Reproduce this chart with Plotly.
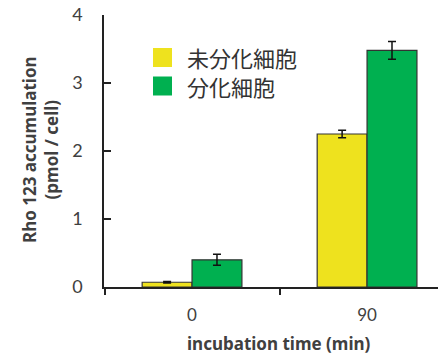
import plotly.graph_objects as go

categories = ["0", "90"]
series_names = ["未分化細胞", "分化細胞"]
undiff_values = [0.07, 2.25]
undiff_errors = [0.01, 0.055]
diff_values = [0.40, 3.48]
diff_errors = [0.08, 0.13]
y_ticks = [0, 1, 2, 3, 4]

colors = ["#EEE21E", "#00B050"]

# page body has an 8px default margin; compensate so the plot lands in place
OFF = 8

fig = go.Figure()
for name, vals, errs, col in [
    (series_names[0], undiff_values, undiff_errors, colors[0]),
    (series_names[1], diff_values, diff_errors, colors[1]),
]:
    fig.add_trace(go.Bar(
        x=categories, y=vals, name=name,
        marker=dict(color=col, line=dict(color="#333333", width=1.2)),
        error_y=dict(type="data", array=errs, visible=True,
                     color="#111111", thickness=1.5, width=4),
        showlegend=False,
    ))

fig.update_layout(
    width=446 - OFF, height=358 - OFF,
    margin=dict(l=104 - OFF, r=0, t=15 - OFF, b=71, autoexpand=False),
    paper_bgcolor="white", plot_bgcolor="white",
    barmode="group", bargap=0.43, bargroupgap=0,
    font=dict(family="Lato, Liberation Sans, sans-serif", color="#404040"),
)
fig.update_xaxes(
    type="category", range=[-0.503, 1.451], automargin=False,
    showline=True, linecolor="#222222", linewidth=1.5,
    ticks="outside", tickson="boundaries", ticklen=6, tickwidth=2, tickcolor="#222222",
    tickfont=dict(size=17, color="#404040"), ticklabelstandoff=12,
    ticklabeloverflow="allow",
    showgrid=False, zeroline=False,
)
fig.update_yaxes(
    range=[0, 4], tickvals=y_ticks, automargin=False,
    showline=True, linecolor="#222222", linewidth=1.5,
    ticks="inside", ticklen=7, tickwidth=1.5, tickcolor="#222222",
    tickfont=dict(size=18, color="#404040"), ticklabelstandoff=16,
    ticklabeloverflow="allow",
    showgrid=False, zeroline=False,
)

# axis titles
fig.add_annotation(
    text="<b>Rho 123 accumulation<br>(pmol / cell)</b>",
    xref="paper", yref="paper", x=(40 - 104) / 342, y=(287 - 150) / 272,
    xanchor="center", yanchor="middle", textangle=-90, showarrow=False,
    font=dict(size=17, color="#404040", family="Noto Sans, sans-serif"),
)
fig.add_annotation(
    text="<b>incubation time (min)</b>",
    xref="paper", yref="paper", x=(278.5 - 104) / 342, y=(287 - 343) / 272,
    xanchor="center", yanchor="middle", showarrow=False,
    font=dict(size=17, color="#404040", family="Noto Sans, sans-serif"),
)

# legend drawn manually
legend_y = [57.5, 86]
for col, yc in zip(colors, legend_y):
    fig.add_shape(
        type="rect", xref="paper", yref="paper",
        x0=(153 - 104) / 342, x1=(172 - 104) / 342,
        y0=(287 - (yc + 9.5)) / 272, y1=(287 - (yc - 9.5)) / 272,
        fillcolor=col, line=dict(width=0),
    )
fig.add_annotation(
    text="<br>".join(series_names), xref="paper", yref="paper",
    x=(185 - 104) / 342, y=(287 - (legend_y[0] + legend_y[1]) / 2) / 272,
    xanchor="left", yanchor="middle", align="left", showarrow=False,
    font=dict(size=22, color="#333333", family="Noto Sans CJK JP"),
)

fig.write_html("out.html")
